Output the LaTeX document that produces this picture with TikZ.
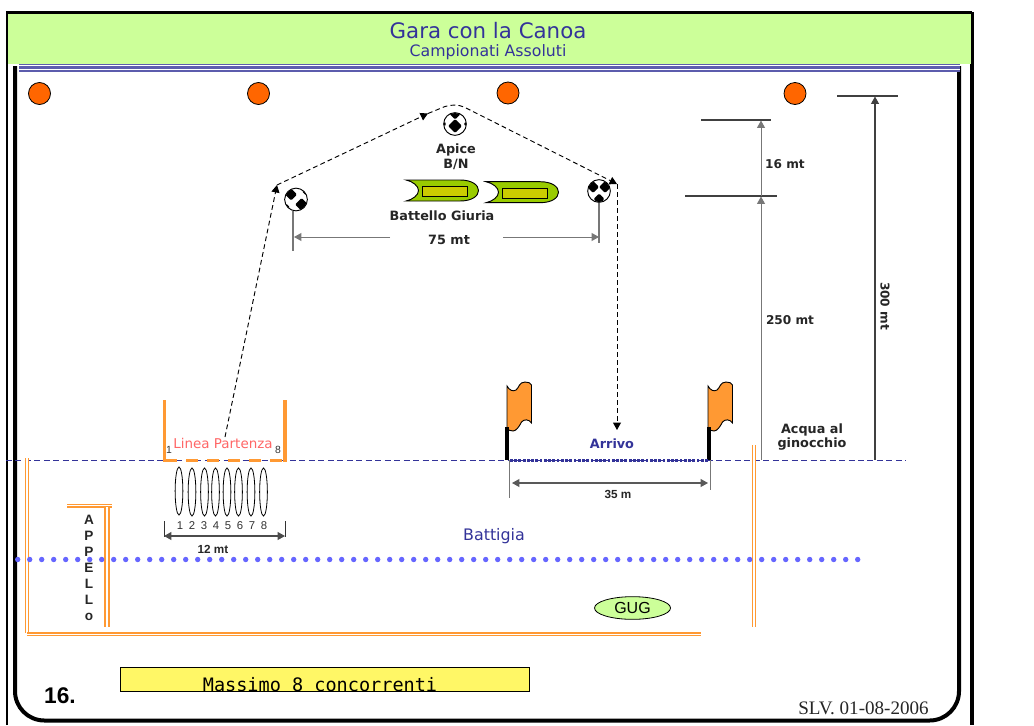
\documentclass[tikz,border=0pt]{standalone}
\usepackage{fontspec}
\usetikzlibrary{arrows.meta,shapes.geometric}
\setmainfont{Liberation Serif}
\newfontfamily\verd{DejaVu Sans}
\newfontfamily\arl{Liberation Sans}
\newfontfamily\mon{DejaVu Sans Mono}
\definecolor{lime}{HTML}{CCFF99}
\definecolor{navy}{HTML}{333399}
\definecolor{buoy}{HTML}{FF6600}
\definecolor{orng}{HTML}{FF9933}
\definecolor{boat}{HTML}{99CC00}
\definecolor{cabin}{HTML}{CCCC00}
\definecolor{dots}{HTML}{6666FF}
\definecolor{dimgray}{HTML}{777777}
\tikzset{
  >={Triangle[length=5.6pt,width=6pt]},
  lab/.style={font=\verd\bfseries\fontsize{9.6pt}{11.6pt}\selectfont,text=black!85,inner sep=0pt,align=center},
  labs/.style={font=\verd\bfseries\fontsize{9.1pt}{11pt}\selectfont,text=black!85,inner sep=0pt,align=center},
  alab/.style={font=\arl\bfseries\fontsize{8.8pt}{10pt}\selectfont,text=black!85,inner sep=0pt},
  num/.style={font=\arl\fontsize{8.5pt}{10pt}\selectfont,text=black!80,inner sep=0pt},
  buoyn/.style={circle,draw=black,line width=.6pt,fill=buoy,minimum size=16.5pt,inner sep=0pt},
  balln/.style={circle,draw=black,line width=.7pt,fill=white,minimum size=17pt,inner sep=0pt},
  dimthin/.style={draw=dimgray,line width=.75pt},
  dimdark/.style={draw=black!75,line width=.8pt},
  route/.style={draw=black,line width=.7pt,dash pattern=on 3.6pt off 2.4pt},
  lane/.style={ellipse,draw=black,line width=.6pt,minimum width=5.8pt,minimum height=36pt,inner sep=0pt},
  flagf/.style={draw=black,line width=.7pt,fill=orng},
  boatf/.style={draw=black,line width=.7pt,fill=boat},
  cabinf/.style={draw=black,line width=.7pt,fill=cabin},
  pole/.style={draw=black,line width=2.6pt},
  post/.style={draw=orng,line width=2.8pt},
}
% double orange rails as filled strips: centre, from, to, half width, half gap
\newcommand{\railv}[5]{%
  \fill[orng] ({#1-#4},#2) rectangle ({#1+#4},#3);
  \fill[white] ({#1-#5},#2) rectangle ({#1+#5},#3);}
\newcommand{\railh}[5]{%
  \fill[orng] (#2,{#1-#4}) rectangle (#3,{#1+#4});
  \fill[white] (#2,{#1-#5}) rectangle (#3,{#1+#5});}
\newcommand{\spot}[3]{\fill[black,rounded corners=1pt] ({#1-#3},#2) -- (#1,{#2-#3}) -- ({#1+#3},#2) -- (#1,{#2+#3}) -- cycle;}
\newcommand{\checkerballL}[3]{%
  \node[balln] (#1) at (#2,#3) {};
  \begin{scope}[shift={(#2,#3)}]
    \clip (0,0) circle (11);
    \spot{-5}{-5}{6}
    \spot{5.5}{5}{6.5}
    \spot{10}{-8}{4}
    \spot{-10}{8}{4}
  \end{scope}
}
\newcommand{\checkerballR}[3]{%
  \node[balln] (#1) at (#2,#3) {};
  \begin{scope}[shift={(#2,#3)}]
    \clip (0,0) circle (11);
    \spot{-6}{-4}{6}
    \spot{6}{-4}{6}
    \spot{0}{8}{5.5}
  \end{scope}
}
\newcommand{\apiceball}[3]{%
  \node[balln] (#1) at (#2,#3) {};
  \begin{scope}[shift={(#2,#3)}]
    \clip (0,0) circle (11);
    \spot{0}{2}{7}
    \spot{0}{-10}{5.5}
    \spot{-11}{0}{2.5}
    \spot{11}{0}{2.5}
  \end{scope}
}
\newcommand{\boatshape}[5]{% name x y cabin-dx cabin-dy
  \begin{scope}[shift={(#2,#3)}]
    \path[boatf] (0,0) -- (54,0) .. controls (66,0) and (72.5,5) .. (72.5,10.5)
      .. controls (72.5,16) and (66,21) .. (54,21) -- (0,21)
      .. controls (7,19.5) and (12.5,15) .. (12.5,10.5) .. controls (12.5,6) and (7,1.5) .. (0,0) -- cycle;
    \node[cabinf,minimum width=34pt,minimum height=7.5pt,inner sep=0pt,anchor=north west] (#1) at (#4,#5) {};
  \end{scope}
}
\newcommand{\flagshape}[3]{% name x pole-top
  \begin{scope}[shift={(#2,382)}]
    \path[flagf] (0,4) .. controls (2,8) and (6,10) .. (9,8) .. controls (12,6) and (12,0) .. (18,0)
      .. controls (21,0) and (24,1) .. (24.5,3) -- (24.5,41)
      .. controls (22,37) and (17,37) .. (14.5,40) .. controls (12,45) and (9,49) .. (6,49)
      .. controls (3,49) and (1,48) .. (0,46) -- cycle;
  \end{scope}
  \coordinate (#1) at (#2,#3);
}
\begin{document}
\begin{tikzpicture}[x=.75pt,y=-.75pt]
\useasboundingbox (0,0) rectangle (1034,725);
\fill[white] (0,0) rectangle (1034,725);
% frames
\draw[black,line width=1.6pt] (7,725) -- (7,12.5) -- (972,12.5);
\draw[black,line width=3pt] (972,12) -- (972,725);
\draw[black,line width=3pt,rounded corners=22pt] (15,66) -- (15,720.5) -- (959,720.5) -- (959,66);
\fill[lime] (8,14) rectangle (970.5,64);
\fill[white] (8,64) rectangle (13,66);
% header
\node[inner sep=0pt,font=\verd\fontsize{16pt}{18pt}\selectfont,text=navy] (title) at (488,31) {Gara con la Canoa};
\node[inner sep=0pt,font=\verd\fontsize{11.8pt}{14pt}\selectfont,text=navy] (subtitle) at (488,52.5) {Campionati Assoluti};
\fill[navy!80] (18.5,64.3) rectangle (960,71.6);
\fill[white] (18.5,65.3) rectangle (960,66);
\fill[white] (18.5,69.3) rectangle (960,70);
% buoys
\node[buoyn] (b1) at (39.5,93.5) {};
\node[buoyn] (b2) at (258.5,93.5) {};
\node[buoyn] (b3) at (508,93) {};
\node[buoyn] (b4) at (795,93.5) {};
% balls
\checkerballL{ballL}{296}{199.5}
\apiceball{ballT}{455}{124}
\checkerballR{ballR}{599}{191}
% route
\coordinate (start) at (225,437);
\coordinate (c1) at (277,185);
\coordinate (c2) at (428,113.5);
\coordinate (c3) at (617,184);
\coordinate (c4) at (617,430);
\draw[route,->] (start) -- (c1);
\draw[route,->] (c1) -- (c2);
\draw[route,->] (c2) -- (445,106.5) .. controls (452,104.5) and (458,104.5) .. (464,107) -- (c3);
\draw[route,->] (c3) -- (c4);
% labels near buoys
\node[lab] (apice) at (456,156.5) {Apice\\[-.6pt]B/N};
\boatshape{cab1}{406}{180}{15.5}{5.7}
\boatshape{cab2}{486}{181.7}{16}{6}
\node[lab] (giuria) at (442,216) {Battello Giuria};
% 75 mt
\node[lab] (d75) at (449,240) {75 mt};
\coordinate (l1) at (293,211); \coordinate (l2) at (293,251);
\coordinate (r1) at (599,203); \coordinate (r2) at (599,243);
\coordinate (m1) at (294,237); \coordinate (m1b) at (390,237);
\coordinate (m2) at (599,237); \coordinate (m2b) at (503,237);
\draw[draw=dimgray,line width=.8pt] (l1) -- (l2);
\draw[draw=dimgray,line width=.8pt] (r1) -- (r2);
\draw[dimthin,->] (m1b) -- (m1);
\draw[dimthin,->] (m2b) -- (m2);
% right dimensions
\coordinate (t16a) at (701,120); \coordinate (t16b) at (771,120);
\coordinate (t25a) at (685,196); \coordinate (t25b) at (777,196);
\coordinate (t30a) at (837,96); \coordinate (t30b) at (898,96);
\coordinate (v16) at (761,196); \coordinate (v16t) at (761,120.5);
\coordinate (v25) at (761,460); \coordinate (v25t) at (761,196.5);
\coordinate (v30) at (875,460); \coordinate (v30t) at (875,96.5);
\draw[dimdark] (t16a) -- (t16b);
\draw[dimdark] (t25a) -- (t25b);
\draw[dimdark] (t30a) -- (t30b);
\draw[dimthin,->] (v16) -- (v16t);
\draw[dimthin,->] (v25) -- (v25t);
\draw[dimdark,->] (v30) -- (v30t);
\node[labs] (l16) at (785,164) {16 mt};
\node[labs] (l250) at (790,320) {250 mt};
\node[labs,rotate=-90] (l300) at (885,306) {300 mt};
% water line
\coordinate (w1) at (6,460.5); \coordinate (w2) at (906,460.5);
\draw[navy,line width=.75pt,dash pattern=on 4.5pt off 2.6pt] (w1) -- (w2);
% start
\coordinate (p1t) at (164.5,400); \coordinate (p1b) at (164.5,461.5);
\coordinate (p2t) at (285,400); \coordinate (p2b) at (285,461.5);
\draw[post] (p1t) -- (p1b);
\draw[post] (p2t) -- (p2b);
\foreach \k in {0,...,5}{
  \fill[orng] ({165+21*\k},458.8) rectangle ({177+21*\k},462.2);
}
\node[inner sep=0pt,font=\verd\fontsize{10.1pt}{12pt}\selectfont,text=red!60] (linea) at (223,443) {Linea Partenza};
\node[num,font=\arl\fontsize{7.8pt}{9pt}\selectfont] (n1) at (169,450) {1};
\node[num,font=\arl\fontsize{7.8pt}{9pt}\selectfont] (n8) at (278,450) {8};
\foreach \i/\x/\y in {1/179/491,2/192/492,3/204.5/492,4/215.5/492,5/227/492,6/238.5/492,7/251/492,8/263.5/492}{
  \node[lane] (e\i) at (\x,\y) {};
}
\foreach \i/\x in {1/180,2/192,3/204,4/216,5/228,6/240,7/252,8/264}{
  \node[num,anchor=base] (q\i) at (\x,529.5) {\i};
}
\coordinate (s1) at (164,521); \coordinate (s1b) at (164,537);
\coordinate (s2) at (285,521); \coordinate (s2b) at (285,537);
\draw[black!80,line width=.75pt] (s1) -- (s1b);
\draw[black!80,line width=.75pt] (s2) -- (s2b);
\draw[black!70,line width=.9pt,<->] (s1 |- 0,536) -- (s2 |- 0,536);
\node[alab] (l12) at (213,549) {12 mt};
% finish
\flagshape{f1}{507}{427}
\flagshape{f2}{708}{427}
\coordinate (f1b) at (507,460); \coordinate (f2b) at (709,460);
\draw[pole] (f1) -- (f1b);
\draw[pole] (709,427) -- (f2b);
\foreach \k in {0,...,46}{
  \fill[navy] ({510+4.24*\k},458.8) rectangle ({512.8+4.24*\k},461.8);
}
\node[lab,text=navy] (arrivo) at (612,443.5) {Arrivo};
\coordinate (g1) at (509,460); \coordinate (g1b) at (509,498);
\coordinate (g2) at (710,460); \coordinate (g2b) at (710,490);
\draw[draw=dimgray,line width=.75pt] (g1) -- (g1b);
\draw[draw=dimgray,line width=.75pt] (g2) -- (g2b);
\draw[black!65,line width=.9pt,<->] (512,483) -- (708,483);
\node[alab] (l35) at (618,494) {35 m};
\node[lab] (acqua) at (812,437) {Acqua al\\[-.6pt]ginocchio};
% orange double lines
\railv{27}{458}{632.5}{2.1}{.7}
\railh{634.3}{27}{701}{2.1}{.7}
\railv{754}{445}{627}{2}{.7}
\railh{505.7}{66.5}{112}{2.2}{.7}
\railv{107}{507}{627}{3}{.6}
% shore
\foreach \k in {0,...,70}{
  \fill[dots] ({17.7+12*\k},559.5) circle (2.7);
}
\node[inner sep=0pt,font=\verd\fontsize{11.9pt}{14pt}\selectfont,text=navy] (batt) at (494,536) {Battigia};
% appello
\foreach \c/\y/\n in {A/520/a1,P/535.5/a2,P/551.5/a3,E/568/a4,L/584/a5,L/600/a6,o/617/a7}{
  \node[alab,font=\arl\bfseries\fontsize{10.2pt}{12pt}\selectfont] (\n) at (89,\y) {\c};
}
% GUG
\node[ellipse,draw=black,line width=.6pt,fill=lime,minimum width=57pt,minimum height=17pt,inner sep=0pt,font=\arl\fontsize{12pt}{14pt}\selectfont] (gug) at (632.5,608) {GUG};
% banner
\node[draw=black,line width=.6pt,fill=yellow!60,minimum width=306.75pt,minimum height=18pt,inner sep=0pt] (banner) at (324.5,679) {};
\begin{scope}
  \clip (120,667) rectangle (529,691);
  \node[anchor=base,inner sep=0pt,font=\mon\fontsize{13.9pt}{16pt}\selectfont] (massimo) at (320,691) {Massimo 8 concorrenti};
\end{scope}
\node[inner sep=0pt,font=\arl\bfseries\fontsize{17pt}{19pt}\selectfont] (num16) at (60,696) {16.};
\node[inner sep=0pt,font=\fontsize{14.3pt}{16pt}\selectfont,text=black!85] (slv) at (863.5,708) {SLV. 01-08-2006};
\end{tikzpicture}
\end{document}
